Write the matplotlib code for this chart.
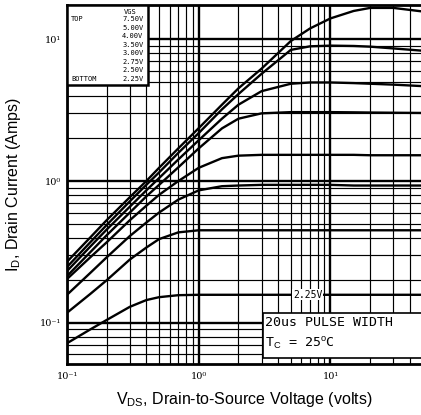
import matplotlib
matplotlib.use("Agg")
import matplotlib.pyplot as plt
from matplotlib.patches import Rectangle
from matplotlib.ticker import LogLocator, NullFormatter

plt.rcParams["mathtext.fontset"] = "custom"
plt.rcParams["mathtext.rm"] = "Liberation Sans"
plt.rcParams["mathtext.it"] = "Liberation Sans"

# Drain-source voltage sample points (V)
vds = [0.1, 0.15, 0.2, 0.3, 0.4, 0.5, 0.7, 1, 1.5, 2, 3, 5, 7, 10, 15, 20, 30, 49]

# Drain current (A) for each gate-source voltage
id_750 = [0.27, 0.40, 0.53, 0.77, 1.0, 1.24, 1.7, 2.36, 3.45, 4.5, 6.2, 9.7, 11.9, 14.0, 15.8, 16.6, 16.6, 15.7]
id_500 = [0.248, 0.37, 0.49, 0.72, 0.94, 1.15, 1.58, 2.18, 3.2, 4.1, 5.7, 8.4, 8.9, 9.0, 8.95, 8.85, 8.6, 8.3]
id_400 = [0.232, 0.345, 0.455, 0.66, 0.86, 1.05, 1.42, 1.94, 2.75, 3.45, 4.3, 4.85, 4.95, 4.95, 4.9, 4.85, 4.78, 4.67]
id_350 = [0.214, 0.315, 0.415, 0.60, 0.78, 0.94, 1.25, 1.70, 2.35, 2.75, 3.0, 3.06, 3.06, 3.06, 3.05, 3.04, 3.03, 3.02]
id_300 = [0.204, 0.29, 0.37, 0.53, 0.67, 0.80, 1.0, 1.24, 1.45, 1.51, 1.53, 1.53, 1.53, 1.53, 1.53, 1.52, 1.52, 1.52]
id_275 = [0.158, 0.225, 0.29, 0.41, 0.51, 0.60, 0.74, 0.86, 0.92, 0.93, 0.94, 0.94, 0.94, 0.94, 0.93, 0.93, 0.93, 0.93]
id_250 = [0.118, 0.16, 0.20, 0.28, 0.34, 0.39, 0.435, 0.45, 0.45, 0.45, 0.45, 0.45, 0.45, 0.45, 0.45, 0.45, 0.45, 0.45]
id_225 = [0.072, 0.09, 0.105, 0.13, 0.145, 0.152, 0.157, 0.158, 0.158, 0.158, 0.158, 0.158, 0.158, 0.158, 0.158, 0.158, 0.158, 0.158]

curves = [id_750, id_500, id_400, id_350, id_300, id_275, id_250, id_225]
vgs_labels = ["7.50V", "5.00V", "4.00V", "3.50V", "3.00V", "2.75V", "2.50V", "2.25V"]

x_ticks = [0.1, 1, 10]
x_tick_labels = ["10⁻¹", "10⁰", "10¹"]
y_ticks = [0.1, 1, 10]
y_tick_labels = ["10⁻¹", "10⁰", "10¹"]

W, H = 421, 415
fig = plt.figure(figsize=(W / 100, H / 100), dpi=100)
ax = fig.add_axes([67 / W, 1 - 364 / H, 355 / W, 359 / H])
ax.set_xscale("log")
ax.set_yscale("log")
ax.set_xlim(0.1, 49.5)
ax.set_ylim(0.0514, 17.4)

# grid: heavy decade lines, lighter sub-decade lines
ax.xaxis.set_minor_locator(LogLocator(base=10, subs=range(2, 10)))
ax.yaxis.set_minor_locator(LogLocator(base=10, subs=range(2, 10)))
ax.xaxis.set_minor_formatter(NullFormatter())
ax.yaxis.set_minor_formatter(NullFormatter())
ax.grid(which="major", color="black", lw=1.7)
ax.grid(which="minor", color="black", lw=0.85)
ax.set_axisbelow(True)

for spine in ax.spines.values():
    spine.set_linewidth(2.0)

for cur in curves:
    ax.plot(vds, cur, color="black", lw=1.7, solid_capstyle="round",
            solid_joinstyle="round", zorder=3)

ax.set_xticks(x_ticks)
ax.set_xticklabels(x_tick_labels, family="DejaVu Serif", fontsize=7)
ax.set_yticks(y_ticks)
ax.set_yticklabels(y_tick_labels, family="DejaVu Serif", fontsize=7)
ax.tick_params(which="both", length=0)
ax.tick_params(axis="x", pad=6)
ax.tick_params(axis="y", pad=4)

ax.set_xlabel(r"V$_{\rm DS}$, Drain-to-Source Voltage (volts)",
              family="Liberation Sans", fontsize=11.5, labelpad=6)
ax.set_ylabel(r"I$_{\rm D}$, Drain Current (Amps)",
              family="Liberation Sans", fontsize=11.5, labelpad=12)

# gate-voltage key in the upper-left corner
ax.add_patch(Rectangle((0, 0.777), 0.229, 0.223, transform=ax.transAxes,
                       facecolor="white", edgecolor="black", lw=1.8, zorder=5))
mono = dict(family="DejaVu Sans Mono", fontsize=5, zorder=6, transform=ax.transAxes)
ax.text(0.16, 0.98, "VGS", ha="left", va="center", **mono)
ax.text(0.012, 0.96, "TOP", ha="left", va="center", **mono)
ax.text(0.012, 0.795, "BOTTOM", ha="left", va="center", **mono)
for i, lab in enumerate(vgs_labels):
    ax.text(0.215, 0.96 - i * 0.0237, lab, ha="right", va="center", **mono)

# label on the lowest curve
ax.text(6.7, id_225[-1], "2.25V", ha="center", va="center", family="DejaVu Sans Mono",
        fontsize=7, zorder=6, bbox=dict(facecolor="white", edgecolor="none", pad=0.5))

# test-condition box
ax.add_patch(Rectangle((0.551, 0.017), 0.46, 0.125, transform=ax.transAxes,
                       facecolor="white", edgecolor="black", lw=1.2, zorder=5, clip_on=False))
ax.text(0.558, 0.116, "20us PULSE WIDTH", transform=ax.transAxes, ha="left", va="center",
        family="DejaVu Sans Mono", fontsize=9.5, zorder=6)
ax.text(0.558, 0.055, r"T$_{\rm C}$ = 25$^{\rm o}$C", transform=ax.transAxes, ha="left",
        va="center", family="DejaVu Sans Mono", fontsize=9.5, zorder=6)

fig.savefig("out.png", dpi=100, facecolor="white")
